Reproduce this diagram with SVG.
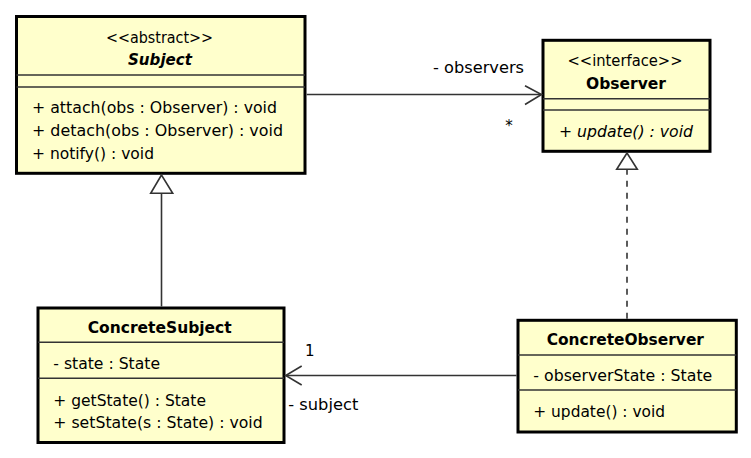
<svg xmlns="http://www.w3.org/2000/svg" width="751" height="458" viewBox="0 0 751 458">
<style>
.box{fill:#FFFFCC;stroke:#000;stroke-width:3}
.sep{stroke:#333;stroke-width:1.5;fill:none}
.t{font-family:"DejaVu Sans","Liberation Sans",sans-serif;font-size:15px;fill:#000}
.c{text-anchor:middle}
.b{font-weight:bold}
.i{font-style:italic}
.ln{stroke:#333;stroke-width:1.6;fill:none}
.dash{stroke-dasharray:6,6}
.tri{fill:#fff;stroke:#333;stroke-width:1.6}
</style>
<rect width="751" height="458" fill="#fff"/>
<g id="Subject">
<rect class="box" x="16.5" y="16.5" width="288.5" height="156.8"/>
<line class="sep" x1="16.5" y1="75" x2="305" y2="75"/>
<line class="sep" x1="16.5" y1="87" x2="305" y2="87"/>
<text class="t c" x="159.5" y="42.5" textLength="107" lengthAdjust="spacingAndGlyphs">&lt;&lt;abstract&gt;&gt;</text>
<text class="t c b i" x="160" y="64.5" textLength="64" lengthAdjust="spacingAndGlyphs">Subject</text>
<text class="t" x="32" y="112.5" textLength="245" lengthAdjust="spacingAndGlyphs">+ attach(obs : Observer) : void</text>
<text class="t" x="32" y="135.5" textLength="251" lengthAdjust="spacingAndGlyphs">+ detach(obs : Observer) : void</text>
<text class="t" x="32" y="159" textLength="122" lengthAdjust="spacingAndGlyphs">+ notify() : void</text>
</g>
<g id="Observer">
<rect class="box" x="543" y="40.3" width="167" height="111"/>
<line class="sep" x1="543" y1="98.7" x2="710" y2="98.7"/>
<line class="sep" x1="543" y1="110" x2="710" y2="110"/>
<text class="t c" x="625" y="65.5" textLength="115" lengthAdjust="spacingAndGlyphs">&lt;&lt;interface&gt;&gt;</text>
<text class="t c b" x="626" y="89" textLength="80" lengthAdjust="spacingAndGlyphs">Observer</text>
<text class="t i" x="559" y="137" textLength="134" lengthAdjust="spacingAndGlyphs">+ update() : void</text>
</g>
<g id="ConcreteSubject">
<rect class="box" x="38" y="308" width="246" height="134.5"/>
<line class="sep" x1="38" y1="342.3" x2="284" y2="342.3"/>
<line class="sep" x1="38" y1="378.3" x2="284" y2="378.3"/>
<text class="t c b" x="159.7" y="333.3" textLength="144" lengthAdjust="spacingAndGlyphs">ConcreteSubject</text>
<text class="t" x="53.3" y="369" textLength="106.7" lengthAdjust="spacingAndGlyphs">- state : State</text>
<text class="t" x="53.3" y="406" textLength="152.7" lengthAdjust="spacingAndGlyphs">+ getState() : State</text>
<text class="t" x="53.3" y="428.3" textLength="209.4" lengthAdjust="spacingAndGlyphs">+ setState(s : State) : void</text>
</g>
<g id="ConcreteObserver">
<rect class="box" x="518" y="320.3" width="218.3" height="111.7"/>
<line class="sep" x1="518" y1="355" x2="736.3" y2="355"/>
<line class="sep" x1="518" y1="390" x2="736.3" y2="390"/>
<text class="t c b" x="625.3" y="345" textLength="157.3" lengthAdjust="spacingAndGlyphs">ConcreteObserver</text>
<text class="t" x="533.3" y="381" textLength="179" lengthAdjust="spacingAndGlyphs">- observerState : State</text>
<text class="t" x="533.3" y="416.7" textLength="131.7" lengthAdjust="spacingAndGlyphs">+ update() : void</text>
</g>
<g id="connectors">
<line class="ln" x1="306.7" y1="94.5" x2="541.5" y2="94.5"/>
<polyline class="ln" points="525,85.7 541.5,94.5 525,104.5"/>
<text class="t" x="433" y="72.7" textLength="91" lengthAdjust="spacingAndGlyphs">- observers</text>
<text class="t c" x="509" y="131">*</text>
<line class="ln" x1="516.5" y1="375.5" x2="285.7" y2="375.5"/>
<polyline class="ln" points="301.7,366 285.7,375.5 301.7,385"/>
<text class="t" x="305" y="355.7">1</text>
<text class="t" x="288.3" y="410" textLength="70" lengthAdjust="spacingAndGlyphs">- subject</text>
<line class="ln" x1="161.5" y1="306.5" x2="161.5" y2="193.3"/>
<polygon class="tri" points="161.5,175 150.7,193.3 172.7,193.3"/>
<line class="ln dash" x1="627" y1="318.8" x2="627" y2="169.3"/>
<polygon class="tri" points="627,153 616.7,169.3 637.3,169.3"/>
</g>
</svg>
